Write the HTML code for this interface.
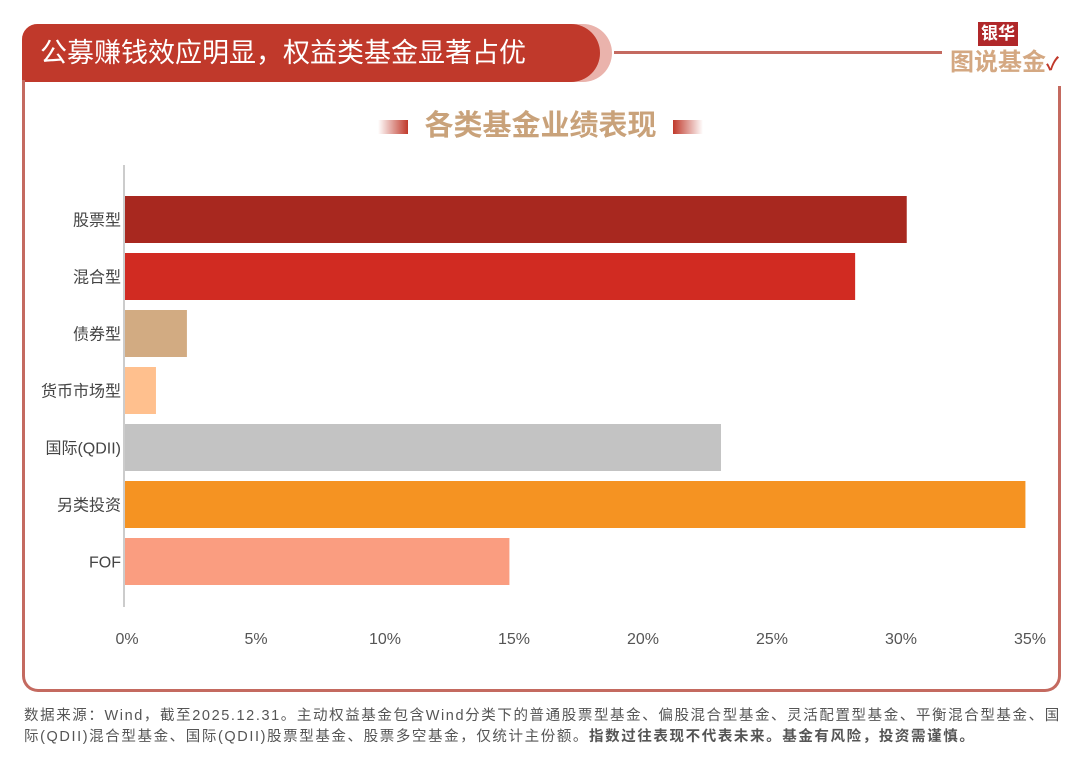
<!DOCTYPE html>
<html><head><meta charset="utf-8">
<style>
body{margin:0;width:1081px;height:760px;background:#fff;position:relative;overflow:hidden;font-family:"Liberation Sans","Noto Sans CJK SC",sans-serif;}
.abs{position:absolute;}
</style></head><body>
<div class="abs" style="left:22px;top:86px;width:1033px;height:603px;border:3px solid #c46a60;border-top:none;border-radius:0 0 16px 16px;"></div>
<div class="abs" style="left:22px;top:24px;width:590px;height:58px;background:#eab3ac;border-radius:16px 30px 30px 0;"></div>
<div class="abs" style="left:22px;top:24px;width:578px;height:58px;background:#c0392b;border-radius:16px 30px 30px 0;color:#fff;font-size:27px;line-height:58px;padding-left:18px;box-sizing:border-box;">公募赚钱效应明显，权益类基金显著占优</div>
<div class="abs" style="left:22px;top:80px;width:3px;height:8px;background:#c46a60;"></div>
<div class="abs" style="left:614px;top:51px;width:328px;height:3px;background:#c46a60;"></div>
<div class="abs" style="left:978px;top:22px;background:#b0282a;color:#fff;font-weight:bold;font-size:17px;padding:0 3px;line-height:24px;">银华</div>
<div class="abs" style="left:950px;top:48px;color:#d4a882;font-weight:bold;font-size:24px;line-height:30px;">图说基金<span style="color:#c0392b;font-size:18px">✓</span></div>
<div class="abs" style="left:0;width:1081px;top:106px;text-align:center;color:#c9a27a;font-weight:bold;font-size:29px;line-height:40px;">
<span style="display:inline-block;width:30px;height:14px;background:linear-gradient(90deg,#fff,#c0392b);vertical-align:middle;margin-right:16px"></span>各类基金业绩表现<span style="display:inline-block;width:30px;height:14px;background:linear-gradient(90deg,#c0392b,#fff);vertical-align:middle;margin-left:16px"></span></div>
<svg class="abs" style="left:0;top:0" width="1081" height="760" id="chart"></svg>
<div class="abs" style="left:24px;top:706px;width:1050px;font-size:14.5px;line-height:21px;color:#555;white-space:nowrap;letter-spacing:1.6px;">数据来源：Wind，截至2025.12.31。主动权益基金包含Wind分类下的普通股票型基金、偏股混合型基金、灵活配置型基金、平衡混合型基金、国<br>际(QDII)混合型基金、国际(QDII)股票型基金、股票多空基金，仅统计主份额。<b>指数过往表现不代表未来。基金有风险，投资需谨慎。</b></div>
<script>
const categories=["股票型","混合型","债券型","货币市场型","国际(QDII)","另类投资","FOF"];
const values=[30.3,28.3,2.4,1.2,23.1,34.9,14.9];
const colors=["#a8281f","#d12b22","#d2ab82","#ffc08e","#c3c3c3","#f59322","#fa9d80"];
const ticks=[0,5,10,15,20,25,30,35];
const tickLabels=["0%","5%","10%","15%","20%","25%","30%","35%"];
const svg=document.getElementById('chart');
const NS='http://www.w3.org/2000/svg';
const x0=125,pxPer=25.8;
function xs(v){return x0+v*pxPer;}
function ys(i){return 196+i*57;}
const bh=47;
function mk(t,a){const e=document.createElementNS(NS,t);for(const k in a)e.setAttribute(k,a[k]);svg.appendChild(e);return e;}
const ax=mk('line',{x1:124,y1:165,x2:124,y2:607,stroke:'#999','stroke-width':1});


categories.forEach((c,i)=>{
 const r=mk('rect',{x:xs(0),y:ys(i),width:xs(values[i])-xs(0),height:bh,fill:colors[i]});
 
 
 const t=mk('text',{x:121,y:ys(i)+bh/2+6,'text-anchor':'end','font-size':16,fill:'#444','font-family':'Liberation Sans, Noto Sans CJK SC, sans-serif'});
 t.textContent=c;
 
 
});
ticks.forEach((v,i)=>{
 const t=mk('text',{x:xs(v)+2,y:644,'text-anchor':'middle','font-size':16,fill:'#555','font-family':'Liberation Sans, sans-serif'});
 t.textContent=tickLabels[i];
 
 
});
</script>
</body></html>
